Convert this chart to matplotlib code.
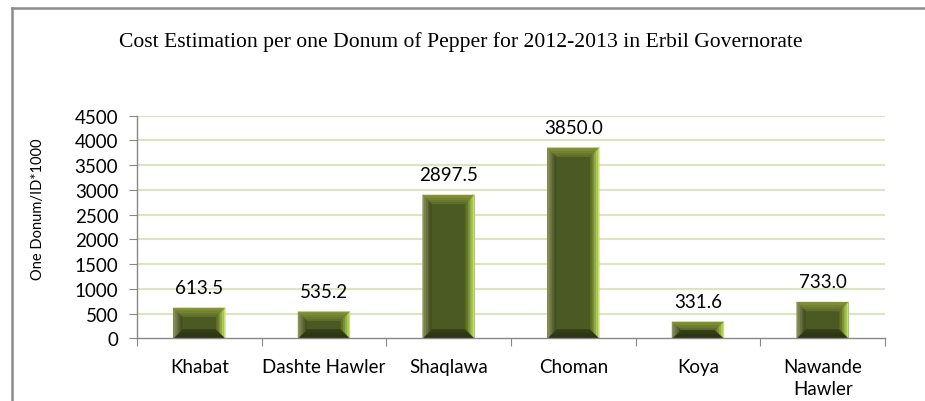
import numpy as np
import matplotlib
matplotlib.use("Agg")
import matplotlib.pyplot as plt
from matplotlib.patches import Polygon
from matplotlib.lines import Line2D

# chart data
regions = ["Khabat", "Dashte Hawler", "Shaqlawa", "Choman", "Koya", "Nawande\nHawler"]
cost = [613.5, 535.2, 2897.5, 3850.0, 331.6, 733.0]
y_ticks = [0, 500, 1000, 1500, 2000, 2500, 3000, 3500, 4000, 4500]

title = "Cost Estimation per one Donum of Pepper for 2012-2013 in Erbil Governorate"
y_label = "One Donum/ID*1000"

label_font = "Lato"
label_size = 13.5
face = np.array([0x4b, 0x5a, 0x22]) / 255


def mix(c1, c2, t):
    return tuple(np.array(c1) * (1 - t) + np.array(c2) * t)


def hexc(h):
    h = h.lstrip("#")
    return np.array([int(h[i:i + 2], 16) for i in (0, 2, 4)]) / 255


# bevel colours: (outer, inner)
bevel_cols = {
    "top": (hexc("#8c9a3c"), hexc("#5c6c28")),
    "left": (hexc("#959a66"), hexc("#3c4719")),
    "right": (hexc("#d2f56a"), hexc("#556624")),
    "bottom": (hexc("#26300d"), hexc("#35411a")),
}


def bevel_bar(ax, xc, h, width, bev_px, ppx, ppy):
    x0, x1 = xc - width / 2, xc + width / 2
    dx = bev_px / ppx
    dy = min(bev_px / ppy, h / 2)
    # face
    ax.add_patch(Polygon([(x0, 0), (x1, 0), (x1, h), (x0, h)], closed=True,
                         facecolor=face, edgecolor="none", zorder=3))
    n = 5
    for i in range(n):
        a, b = i / n, (i + 1) / n
        ox0, ox1, oy0, oy1 = x0 + dx * a, x1 - dx * a, dy * a, h - dy * a
        ix0, ix1, iy0, iy1 = x0 + dx * b, x1 - dx * b, dy * b, h - dy * b
        t = (a + b) / 2
        polys = {
            "top": [(ox0, oy1), (ox1, oy1), (ix1, iy1), (ix0, iy1)],
            "bottom": [(ox0, oy0), (ox1, oy0), (ix1, iy0), (ix0, iy0)],
            "left": [(ox0, oy0), (ox0, oy1), (ix0, iy1), (ix0, iy0)],
            "right": [(ox1, oy0), (ox1, oy1), (ix1, iy1), (ix1, iy0)],
        }
        for side, pts in polys.items():
            c_out, c_in = bevel_cols[side]
            ax.add_patch(Polygon(pts, closed=True, facecolor=mix(c_out, c_in, t),
                                 edgecolor=mix(c_out, c_in, t), linewidth=0.3, zorder=4))


fig = plt.figure(figsize=(9.25, 4.02), dpi=100)
fig.patch.set_facecolor("white")

# outer chart border (top and left visible)
fig.add_artist(Line2D([12 / 925, 12 / 925], [0, 1 - 9 / 402], transform=fig.transFigure,
                      color="#8c8c8c", linewidth=1.8))
fig.add_artist(Line2D([12 / 925, 1], [1 - 9 / 402, 1 - 9 / 402], transform=fig.transFigure,
                      color="#8c8c8c", linewidth=1.8))

ax = fig.add_axes([137 / 925, 62.7 / 402, (885 - 137) / 925, 222.6 / 402])
ax.set_xlim(-0.5, len(regions) - 0.5)
ax.set_ylim(0, 4500)

ax_w_px = 885 - 137
ax_h_px = 222.6
ppx = ax_w_px / len(regions)
ppy = ax_h_px / 4500

x = np.arange(len(regions))
bar_w = 52 / ppx
for xi, v in zip(x, cost):
    bevel_bar(ax, xi, v, bar_w, 9, ppx, ppy)
    ax.annotate(f"{v:.1f}", (xi, v), xytext=(0, 14.5), textcoords="offset points",
                ha="center", va="center", fontsize=label_size, family=label_font, color="black")

ax.set_yticks(y_ticks)
ax.set_yticklabels([str(t) for t in y_ticks], fontfamily=label_font, fontsize=label_size)
for t in y_ticks[1:]:
    ax.axhline(t, color="#d9e6c0", linewidth=1.5, zorder=1)

ax.set_xticks(np.arange(-0.5, len(regions)), minor=False)
ax.set_xticklabels([])
ax.set_xticks(x, minor=True)
ax.set_xticklabels(regions, minor=True, fontfamily=label_font, fontsize=label_size,
                   linespacing=1.4)
ax.tick_params(axis="x", which="major", length=6, color="#888888", direction="out")
ax.tick_params(axis="x", which="minor", length=0, pad=14)
ax.tick_params(axis="y", length=6, color="#888888", direction="out", pad=7.5)

for s in ["top", "right"]:
    ax.spines[s].set_visible(False)
for s in ["left", "bottom"]:
    ax.spines[s].set_color("#888888")
    ax.spines[s].set_linewidth(1.0)
ax.spines["left"].set_zorder(5)
ax.spines["bottom"].set_zorder(5)

fig.text(38 / 925, 1 - 209 / 402, y_label, rotation=90, ha="center", va="center",
         fontsize=10.5, family=label_font)
fig.text(461 / 925, 1 - 42 / 402, title, ha="center", va="center",
         fontsize=15.6, family="Liberation Serif")

fig.savefig("out.png", dpi=100)
